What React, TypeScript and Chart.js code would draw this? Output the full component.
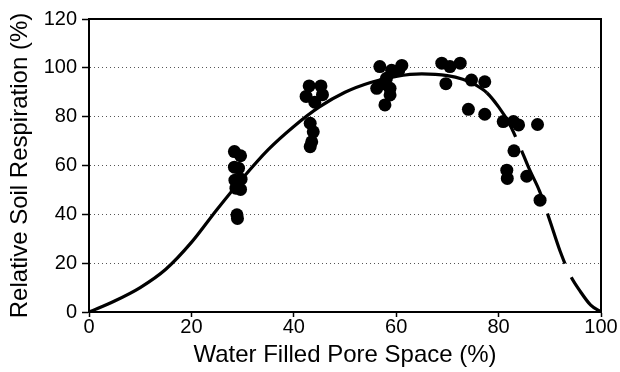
import React, { useEffect, useRef } from "react";
import { Chart, registerables } from "chart.js";

Chart.register(...registerables);

// Observed data points (Water Filled Pore Space %, Relative Soil Respiration %)
const pointsX = [
  28.4, 29.6, 28.4, 29.2, 28.5, 29.7, 28.7, 29.6, 28.9, 29.0,
  43.0, 45.3, 42.4, 45.6, 44.1, 43.2, 43.8, 43.5, 43.2,
  56.8, 61.1, 59.1, 58.1, 56.2, 58.8, 58.8, 57.8, 57.5, 60.5,
  68.9, 70.5, 72.5, 69.7, 74.7, 77.3, 74.1, 77.3,
  80.9, 82.9, 83.9, 87.6, 83.0, 81.6, 81.7, 85.5, 88.1,
];
const pointsY = [
  65.7, 64.0, 59.3, 58.9, 54.0, 54.4, 50.7, 50.2, 39.8, 38.3,
  92.6, 92.6, 88.3, 89.0, 85.9, 77.3, 73.8, 69.7, 67.7,
  100.5, 101.0, 99.0, 95.7, 91.6, 91.6, 88.9, 84.8, 93.5, 99.0,
  101.9, 100.5, 101.9, 93.5, 95.0, 94.3, 83.0, 81.0,
  78.0, 78.0, 76.6, 76.8, 66.0, 58.1, 54.7, 55.6, 45.8,
];

// Fitted curve; drawn dashed from DASH_FROM onwards
const curveX = [0, 5, 10, 15, 20, 25, 30, 35, 40, 45, 50, 55, 60, 65, 70, 73, 75.5, 77.7, 80, 82, 84, 86, 88, 90, 92, 94, 96, 98, 100];
const curveY = [0, 4.5, 10, 17.5, 28.5, 42, 54.8, 66.5, 76, 84, 90, 94, 96.5, 97.5, 96.8, 95.3, 93, 89.8, 84, 77.5, 68.5, 58.5, 49.5, 37.5, 25, 15, 8.3, 2.8, 0];
const DASH_FROM = 77.7;

const xTitle = "Water Filled Pore Space (%)";
const yTitle = "Relative Soil Respiration (%)";

const FONT = 'Arial, "Liberation Sans", Helvetica, sans-serif';

const toXY = (xs: number[], ys: number[]) => xs.map((x, i) => ({ x, y: ys[i] }));

const frame = {
  id: "frame",
  afterDatasetsDraw(chart: any) {
    const { ctx, chartArea } = chart;
    ctx.save();
    ctx.strokeStyle = "#000";
    ctx.lineWidth = 2;
    ctx.beginPath();
    ctx.moveTo(chartArea.left, chartArea.top);
    ctx.lineTo(chartArea.right, chartArea.top);
    ctx.lineTo(chartArea.right, chartArea.bottom);
    ctx.stroke();
    ctx.restore();
  },
};

export default function App() {
  const ref = useRef<HTMLCanvasElement | null>(null);

  useEffect(() => {
    document.body.style.margin = "0";
    const canvas = ref.current;
    if (!canvas) return;
    const chart = new Chart(canvas, {
      type: "scatter",
      data: {
        datasets: [
          {
            label: "curve",
            data: toXY(curveX, curveY),
            showLine: true,
            borderColor: "#000",
            borderWidth: 3.2,
            pointRadius: 0,
            cubicInterpolationMode: "monotone",
            segment: {
              borderDash: (c: any) => (c.p0.parsed.x >= DASH_FROM - 1e-6 ? [53, 15] : []),
            },
            order: 2,
          } as any,
          {
            label: "obs",
            data: toXY(pointsX, pointsY),
            backgroundColor: "#000",
            borderWidth: 0,
            pointRadius: 6.5,
            order: 1,
          },
        ],
      },
      options: {
        animation: false,
        responsive: false,
        devicePixelRatio: 1,
        layout: { padding: { left: 0, right: 19, top: 19, bottom: 0 } },
        plugins: {
          legend: { display: false },
          tooltip: { enabled: false },
        },
        scales: {
          x: {
            type: "linear",
            min: 0,
            max: 100,
            afterFit: (s: any) => {
              s.height = 60;
            },
            ticks: {
              stepSize: 20,
              padding: 0,
              color: "#000",
              font: { family: FONT, size: 20, lineHeight: 1 },
            },
            grid: {
              drawOnChartArea: false,
              drawTicks: true,
              tickLength: 5,
              tickColor: "#000",
              tickWidth: 1.5,
            },
            border: { display: true, color: "#000", width: 2 },
            title: {
              display: true,
              text: xTitle,
              color: "#000",
              font: { family: FONT, size: 24, lineHeight: 1 },
              padding: { top: 0, bottom: 5 },
            },
          },
          y: {
            min: 0,
            max: 120,
            afterFit: (s: any) => {
              s.width = 89;
            },
            ticks: {
              stepSize: 20,
              padding: 5,
              color: "#000",
              font: { family: FONT, size: 20, lineHeight: 1 },
            },
            grid: {
              color: (c: any) =>
                c.tick && (c.tick.value === 0 || c.tick.value === 120) ? "rgba(0,0,0,0)" : "#555",
              lineWidth: 1,
              drawTicks: true,
              tickLength: 7,
              tickColor: "#000",
              tickWidth: 1.5,
              tickBorderDash: [],
            },
            border: { display: true, color: "#000", width: 2, dash: [1, 3] },
            title: {
              display: true,
              text: yTitle,
              color: "#000",
              font: { family: FONT, size: 24, lineHeight: 1 },
              padding: { top: 8, bottom: 0 },
            },
          },
        },
      },
      plugins: [frame],
    });
    return () => chart.destroy();
  }, []);

  return (
    <div style={{ position: "absolute", left: 0, top: 0, width: 620, height: 372, background: "#fff" }}>
      <canvas ref={ref} width={620} height={372} />
    </div>
  );
}
